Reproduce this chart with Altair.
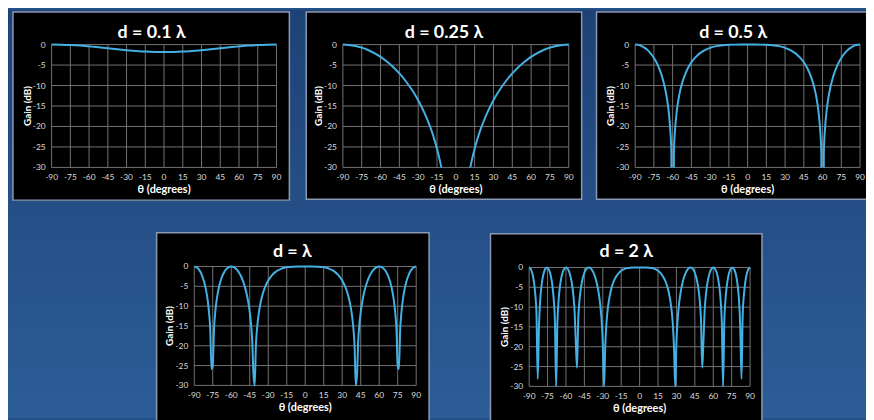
import altair as alt
import pandas as pd

W, H = 866, 412

x_ticks = [-90, -75, -60, -45, -30, -15, 0, 15, 30, 45, 60, 75, 90]
x_labels = ["-90", "-75", "-60", "-45", "-30", "-15", "0", "15", "30", "45", "60", "75", "90"]
y_ticks = [0, -5, -10, -15, -20, -25, -30]
y_labels = ["0", "-5", "-10", "-15", "-20", "-25", "-30"]
titles = ["d = 0.1 λ", "d = 0.25 λ", "d = 0.5 λ", "d = λ", "d = 2 λ"]
x_title = "θ (degrees)"
y_title = "Gain (dB)"

# ---- d = 0.1 lambda
p1_theta = [-90, -82.5, -75, -67.5, -60, -52.5, -45, -37.5, -30, -22.5, -15, -7.5, 0,
            7.5, 15, 22.5, 30, 37.5, 45, 52.5, 60, 67.5, 75, 82.5, 90]
p1_gain = [0, -0.03, -0.12, -0.25, -0.44, -0.65, -0.89, -1.13, -1.36, -1.55, -1.71, -1.81, -1.84,
           -1.81, -1.71, -1.55, -1.36, -1.13, -0.89, -0.65, -0.44, -0.25, -0.12, -0.03, 0]

# ---- d = 0.25 lambda (two branches, gap below -30 dB)
p2a_theta = [-90, -87.5, -85, -80, -75, -70, -65, -60, -55, -50, -45, -40, -35, -30, -25, -20,
             -17.5, -15, -12.5, -11.5]
p2a_gain = [0, -0.02, -0.08, -0.33, -0.74, -1.32, -2.07, -3.01, -4.14, -5.48, -7.05, -8.89, -11.05,
            -13.6, -16.68, -20.48, -22.78, -25.43, -28.58, -30]
p2b_theta = [11.5, 12.5, 15, 17.5, 20, 25, 30, 35, 40, 45, 50, 55, 60, 65, 70, 75, 80, 85, 87.5, 90]
p2b_gain = [-30, -28.58, -25.43, -22.78, -20.48, -16.68, -13.6, -11.05, -8.89, -7.05, -5.48, -4.14,
            -3.01, -2.07, -1.32, -0.74, -0.33, -0.08, -0.02, 0]

# ---- d = 0.5 lambda (three branches)
p3a_theta = [-90, -88, -86, -84, -82, -80, -78, -76, -74, -72, -70, -68, -66, -65, -64, -63, -62,
             -61, -60.99]
p3a_gain = [0, -0.05, -0.21, -0.48, -0.86, -1.36, -2.0, -2.79, -3.77, -4.95, -6.44, -8.32, -10.79,
            -12.37, -14.32, -16.83, -20.38, -26.43, -30]
p3b_theta = [-59.01, -59, -58, -57, -56, -55, -54, -52, -50, -48, -46, -44, -42, -40, -38, -35,
             -32, -30, -25, -20, -15, -10, -5, 0, 5, 10, 15, 20, 25, 30, 32, 35, 38, 40, 42, 44,
             46, 48, 50, 52, 54, 55, 56, 57, 58, 59, 59.01]
p3b_gain = [-30, -26.52, -20.55, -17.09, -14.66, -12.8, -11.3, -8.99, -7.26, -5.91, -4.82, -3.93,
            -3.2, -2.59, -2.09, -1.48, -1.03, -0.79, -0.38, -0.16, -0.05, -0.01, 0, 0, 0, -0.01,
            -0.05, -0.16, -0.38, -0.79, -1.03, -1.48, -2.09, -2.59, -3.2, -3.93, -4.82, -5.91,
            -7.26, -8.99, -11.3, -12.8, -14.66, -17.09, -20.55, -26.52, -30]
p3c_theta = [60.99, 61, 62, 63, 64, 65, 66, 68, 70, 72, 74, 76, 78, 80, 82, 84, 86, 88, 90]
p3c_gain = [-30, -26.43, -20.38, -16.83, -14.32, -12.37, -10.79, -8.32, -6.44, -4.95, -3.77, -2.79,
            -2.0, -1.36, -0.86, -0.48, -0.21, -0.05, 0]

# ---- d = lambda
p4_theta = [-90, -88, -86, -84, -82, -80, -79, -78, -77, -76,
            -75, -74, -73, -72, -70, -68, -66, -64, -62, -60,
            -58, -56, -54, -52, -50, -48, -46, -45, -44, -43,
            -42, -41, -40, -39, -38, -37, -36, -34, -32, -30,
            -28, -26, -24, -22, -20, -17, -14, -10, -5, 0,
            5, 10, 14, 17, 20, 22, 24, 26, 28, 30,
            32, 34, 36, 37, 38, 39, 40, 41, 42, 43,
            44, 45, 46, 48, 50, 52, 54, 56, 58, 60,
            62, 64, 66, 68, 70, 72, 73, 74, 75, 76,
            77, 78, 79, 80, 82, 84, 86, 88, 90]
p4_gain = [0, -0.21, -0.86, -2.03, -3.86, -6.71, -8.79, -11.66, -16.1, -25.89,
           -25.13, -15.9, -11.6, -8.82, -5.25, -3.03, -1.59, -0.67, -0.16, 0,
           -0.15, -0.62, -1.39, -2.53, -4.1, -6.26, -9.35, -11.49, -14.36, -18.64,
           -27.32, -30, -19.94, -15.4, -12.52, -10.43, -8.82, -6.44, -4.77, -3.53,
           -2.6, -1.89, -1.35, -0.94, -0.64, -0.33, -0.15, -0.04, 0, 0,
           0, -0.04, -0.15, -0.33, -0.64, -0.94, -1.35, -1.89, -2.6, -3.53,
           -4.77, -6.44, -8.82, -10.43, -12.52, -15.4, -19.94, -30, -27.32, -18.64,
           -14.36, -11.49, -9.35, -6.26, -4.1, -2.53, -1.39, -0.62, -0.15, 0,
           -0.16, -0.67, -1.59, -3.03, -5.25, -8.82, -11.6, -15.9, -25.13, -25.89,
           -16.1, -11.66, -8.79, -6.71, -3.86, -2.03, -0.86, -0.21, 0]

# ---- d = 2 lambda
p5_theta = [-90, -89, -88, -87, -86, -85, -84, -83, -82, -81,
            -80, -79, -78, -77, -76, -75, -74, -73, -72, -71,
            -70, -69, -68, -67, -66, -65, -64, -63, -62, -61,
            -60, -59, -58, -57, -56, -55, -54, -53, -52, -51,
            -50, -49, -48, -47, -46, -45, -44, -43, -42, -41,
            -40, -39, -38, -37, -36, -35, -34, -33, -32, -31,
            -30, -29, -28, -27, -26, -25, -24, -23, -22, -21,
            -20, -18, -16, -14, -12, -10, -8, -5, 0, 5,
            8, 10, 12, 14, 16, 18, 20, 21, 22, 23,
            24, 25, 26, 27, 28, 29, 30, 31, 32, 33,
            34, 35, 36, 37, 38, 39, 40, 41, 42, 43,
            44, 45, 46, 47, 48, 49, 50, 51, 52, 53,
            54, 55, 56, 57, 58, 59, 60, 61, 62, 63,
            64, 65, 66, 67, 68, 69, 70, 71, 72, 73,
            74, 75, 76, 77, 78, 79, 80, 81, 82, 83,
            84, 85, 86, 87, 88, 89, 90]
p5_gain = [0, -0.21, -0.87, -2.03, -3.88, -6.78, -11.89, -28.11, -15.03, -8.29,
           -4.82, -2.67, -1.28, -0.44, -0.04, -0.05, -0.46, -1.29, -2.65, -4.70,
           -7.90, -13.66, -30, -14.14, -8.22, -4.98, -2.92, -1.54, -0.66, -0.16,
           0, -0.16, -0.63, -1.45, -2.67, -4.41, -6.92, -10.84, -18.63, -25.30,
           -13.08, -8.39, -5.57, -3.65, -2.30, -1.33, -0.66, -0.24, -0.03, -0.02,
           -0.18, -0.52, -1.03, -1.73, -2.65, -3.80, -5.26, -7.12, -9.57, -13.07,
           -18.98, -30, -20.02, -13.99, -10.61, -8.33, -6.64, -5.33, -4.30, -3.46,
           -2.78, -1.76, -1.07, -0.62, -0.33, -0.16, -0.07, -0.01, 0, -0.01,
           -0.07, -0.16, -0.33, -0.62, -1.07, -1.76, -2.78, -3.46, -4.30, -5.33,
           -6.64, -8.33, -10.61, -13.99, -20.02, -30, -18.98, -13.07, -9.57, -7.12,
           -5.26, -3.80, -2.65, -1.73, -1.03, -0.52, -0.18, -0.02, -0.03, -0.24,
           -0.66, -1.33, -2.30, -3.65, -5.57, -8.39, -13.08, -25.30, -18.63, -10.84,
           -6.92, -4.41, -2.67, -1.45, -0.63, -0.16, 0, -0.16, -0.66, -1.54,
           -2.92, -4.98, -8.22, -14.14, -30, -13.66, -7.90, -4.70, -2.65, -1.29,
           -0.46, -0.05, -0.04, -0.44, -1.28, -2.67, -4.82, -8.29, -15.03, -28.11,
           -11.89, -6.78, -3.88, -2.03, -0.87, -0.21, 0]

LINE = "#45b0e3"
GRID = "#737373"
LABEL = "#dcdcdc"
FONT = "Lato"

xtick_df = pd.DataFrame({"xt": x_ticks, "lab": x_labels})
ytick_df = pd.DataFrame({"yt": y_ticks, "lab": y_labels})


def panel(segments, title, xr, yr, frame, tpos):
    rows = []
    for s, (th, g) in enumerate(segments):
        assert len(th) == len(g), (title, len(th), len(g))
        for t, v in zip(th, g):
            rows.append({"theta": t, "gain": v, "seg": s})
    df = pd.DataFrame(rows)
    xs = alt.Scale(domain=[-90, 90], range=xr, nice=False, zero=False)
    ys = alt.Scale(domain=[-30, 0], range=yr, nice=False, zero=False)
    one = alt.Data(values=[{"k": 0}])

    box = alt.Chart(one).mark_rect(fill="black", stroke="#8a9ab3", strokeWidth=1.5).encode(
        x=alt.value(frame[0]), x2=alt.value(frame[1]),
        y=alt.value(frame[2]), y2=alt.value(frame[3]))
    vgrid = alt.Chart(xtick_df).mark_rule(color=GRID, strokeWidth=1).encode(
        x=alt.X("xt:Q", scale=xs, axis=None),
        y=alt.YDatum(-30, scale=ys, axis=None), y2=alt.Y2Datum(0))
    hgrid = alt.Chart(ytick_df).mark_rule(color=GRID, strokeWidth=1).encode(
        y=alt.Y("yt:Q", scale=ys, axis=None),
        x=alt.XDatum(-90, scale=xs, axis=None), x2=alt.X2Datum(90))
    xlab = alt.Chart(xtick_df).mark_text(
        font=FONT, fontSize=8.5, color=LABEL, align="center", baseline="middle", dy=10).encode(
        x=alt.X("xt:Q", scale=xs, axis=None),
        y=alt.YDatum(-30, scale=ys, axis=None), text="lab:N")
    ylab = alt.Chart(ytick_df).mark_text(
        font=FONT, fontSize=8.5, color=LABEL, align="right", baseline="middle", dx=-6).encode(
        y=alt.Y("yt:Q", scale=ys, axis=None),
        x=alt.XDatum(-90, scale=xs, axis=None), text="lab:N")
    xttl = alt.Chart(alt.Data(values=[{"t": x_title}])).mark_text(
        font=FONT, fontSize=11, fontWeight="bold", color="white",
        align="center", baseline="middle", dy=23).encode(
        x=alt.XDatum(0, scale=xs, axis=None),
        y=alt.YDatum(-30, scale=ys, axis=None), text="t:N")
    yttl = alt.Chart(alt.Data(values=[{"t": y_title}])).mark_text(
        font=FONT, fontSize=10, fontWeight="bold", color="white", angle=270,
        align="center", baseline="middle", dy=-24).encode(
        x=alt.XDatum(-90, scale=xs, axis=None),
        y=alt.YDatum(-15, scale=ys, axis=None), text="t:N")
    line = alt.Chart(df).mark_line(color=LINE, strokeWidth=2, interpolate="monotone").encode(
        x=alt.X("theta:Q", scale=xs, axis=None),
        y=alt.Y("gain:Q", scale=ys, axis=None),
        detail="seg:N")
    head = alt.Chart(alt.Data(values=[{"t": title}])).mark_text(
        font=FONT, fontWeight="bold", fontSize=18, color="white",
        align="center", baseline="alphabetic").encode(
        x=alt.value(tpos[0]), y=alt.value(tpos[1]), text="t:N")
    return alt.layer(box, vgrid, hgrid, xlab, ylab, xttl, yttl, line, head)


bg = alt.Chart(alt.Data(values=[{"k": 0}])).mark_rect(
    fill={"gradient": "linear", "x1": 0, "x2": 0, "y1": 0, "y2": 1,
          "stops": [{"offset": 0, "color": "#1e4276"}, {"offset": 1, "color": "#2c5d97"}]}
).encode(x=alt.value(0), x2=alt.value(W), y=alt.value(0), y2=alt.value(H))

p1 = panel([(p1_theta, p1_gain)], titles[0], [44, 271], [159, 35], (5, 284, 2, 192), (145, 28))
p2 = panel([(p2a_theta, p2a_gain), (p2b_theta, p2b_gain)], titles[1], [338, 566], [159, 35],
           (301, 579, 2, 191), (440, 28))
p3 = panel([(p3a_theta, p3a_gain), (p3b_theta, p3b_gain), (p3c_theta, p3c_gain)], titles[2],
           [633, 860], [159, 35], (594, 880, 2, 191), (732, 28))
p4 = panel([(p4_theta, p4_gain)], titles[3], [188, 412], [379, 259], (150, 425, 225, 420), (287, 249))
p5 = panel([(p5_theta, p5_gain)], titles[4], [526, 749], [380, 260], (487, 761, 226, 420), (624, 249))

chart = alt.layer(bg, p1, p2, p3, p4, p5).resolve_scale(
    x="independent", y="independent"
).properties(
    width=W, height=H, autosize=alt.AutoSizeParams(type="none"), padding=0,
    background="#24508a"
).configure_view(strokeWidth=0)

chart.save("out.html", embed_options={"renderer": "svg", "actions": False})
